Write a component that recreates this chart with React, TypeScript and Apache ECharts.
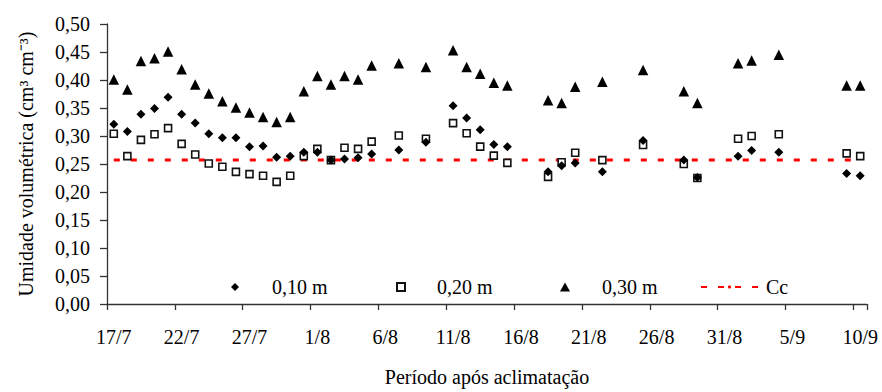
import React, { useEffect, useRef } from "react";
import * as echarts from "echarts";

const axisDates = [
  "17/7","18/7","19/7","20/7","21/7","22/7","23/7","24/7","25/7","26/7","27/7","28/7","29/7","30/7","31/7",
  "1/8","2/8","3/8","4/8","5/8","6/8","7/8","8/8","9/8","10/8","11/8","12/8","13/8","14/8","15/8","16/8",
  "17/8","18/8","19/8","20/8","21/8","22/8","23/8","24/8","25/8","26/8","27/8","28/8","29/8","30/8","31/8",
  "1/9","2/9","3/9","4/9","5/9","6/9","7/9","8/9","9/9","10/9",
];

const measureDates = [
  "17/7","18/7","19/7","20/7","21/7","22/7","23/7","24/7","25/7","26/7","27/7","28/7","29/7","30/7","31/7",
  "1/8","2/8","3/8","4/8","5/8","7/8","9/8","11/8","12/8","13/8","14/8","15/8","18/8","19/8","20/8","22/8",
  "25/8","28/8","29/8","1/9","2/9","4/9","9/9","10/9",
];

const depth010 = [
  0.321,0.308,0.339,0.349,0.369,0.339,0.323,0.304,0.297,0.297,0.281,0.282,0.262,0.264,0.271,
  0.271,0.257,0.259,0.261,0.268,0.275,0.289,0.354,0.332,0.311,0.285,0.281,0.236,0.247,0.252,0.236,
  0.292,0.257,0.226,0.264,0.274,0.271,0.233,0.229,
];
const depth020 = [
  0.304,0.264,0.293,0.303,0.314,0.286,0.267,0.251,0.245,0.236,0.232,0.229,0.218,0.229,0.264,
  0.277,0.257,0.279,0.277,0.290,0.301,0.295,0.323,0.305,0.281,0.265,0.252,0.227,0.253,0.270,0.257,
  0.284,0.250,0.225,0.295,0.300,0.303,0.269,0.264,
];
const depth030 = [
  0.401,0.383,0.434,0.439,0.451,0.419,0.392,0.376,0.362,0.351,0.342,0.334,0.325,0.334,0.380,
  0.407,0.392,0.407,0.401,0.426,0.430,0.423,0.453,0.423,0.411,0.395,0.390,0.364,0.359,0.388,0.397,
  0.418,0.380,0.359,0.430,0.435,0.445,0.390,0.390,
];
const ccDates = ["17/7", "10/9"];
const ccValue = 0.257;

const seriesNames = ["0,10 m", "0,20 m", "0,30 m", "Cc"];
const yTicks = { min: 0, max: 0.5, interval: 0.05 };

const FONT = "Liberation Serif";

export default function App() {
  const ref = useRef<HTMLDivElement>(null);
  useEffect(() => {
    if (!ref.current) return;
    const chart = echarts.init(ref.current, null, { renderer: "svg" });
    const pair = (vals: number[]) => measureDates.map((d, i) => [d, vals[i]]);
    const legendBase = {
      orient: "horizontal",
      top: 277,
      padding: 0,
      selectedMode: false,
      textStyle: { fontFamily: FONT, fontSize: 20, color: "#000", lineHeight: 20 },
    };
    chart.setOption({
      animation: false,
      backgroundColor: "#fff",
      grid: { left: 107, right: 15, top: 24, bottom: 79, containLabel: false },
      legend: [
        { ...legendBase, data: [seriesNames[0]], left: 231, itemWidth: 8, itemHeight: 8,
          textStyle: { ...legendBase.textStyle, padding: [0, 0, 0, 28] } },
        { ...legendBase, data: [seriesNames[1]], left: 396, itemWidth: 8, itemHeight: 8,
          textStyle: { ...legendBase.textStyle, padding: [0, 0, 0, 27] } },
        { ...legendBase, data: [seriesNames[2]], left: 560, itemWidth: 10, itemHeight: 9,
          textStyle: { ...legendBase.textStyle, padding: [0, 0, 0, 27] } },
        { ...legendBase, data: [seriesNames[3]], left: 700, itemWidth: 57, itemHeight: 4,
          textStyle: { ...legendBase.textStyle, padding: [0, 0, 0, 3] } },
      ],
      textStyle: { fontFamily: FONT },
      xAxis: {
        type: "category",
        data: axisDates,
        boundaryGap: true,
        name: "Período após aclimatação",
        nameLocation: "middle",
        nameGap: 63,
        nameTextStyle: { fontFamily: FONT, fontSize: 20, color: "#000" },
        axisLine: { lineStyle: { color: "#333", width: 1.3 } },
        axisTick: { show: true, interval: 4, length: 6, lineStyle: { color: "#333", width: 1.3 } },
        axisLabel: { interval: 4, margin: 23, fontFamily: FONT, fontSize: 20, color: "#000" },
        splitLine: { show: false },
      },
      yAxis: {
        type: "value",
        min: yTicks.min,
        max: yTicks.max,
        interval: yTicks.interval,
        name: "Umidade volumétrica (cm³ cm⁻³)",
        nameLocation: "middle",
        nameGap: 71,
        nameTextStyle: { fontFamily: FONT, fontSize: 20, color: "#000" },
        axisLine: { show: true, lineStyle: { color: "#333", width: 1.3 } },
        axisTick: { show: true, length: 7, lineStyle: { color: "#333", width: 1.3 } },
        axisLabel: {
          margin: 17,
          fontFamily: FONT,
          fontSize: 20,
          color: "#000",
          formatter: (v: number) => v.toFixed(2).replace(".", ","),
        },
        splitLine: { show: false },
      },
      series: [
        {
          name: seriesNames[0],
          type: "scatter",
          symbol: "diamond",
          symbolSize: 9,
          itemStyle: { color: "#000", opacity: 1 },
          data: pair(depth010),
          z: 3,
        },
        {
          name: seriesNames[1],
          type: "scatter",
          symbol: "rect",
          symbolSize: 7,
          itemStyle: { color: "#fff", borderColor: "#111", borderWidth: 1.6, opacity: 1 },
          data: pair(depth020),
          z: 2,
        },
        {
          name: seriesNames[2],
          type: "scatter",
          symbol: "triangle",
          symbolSize: 10.5,
          itemStyle: { color: "#000", opacity: 1 },
          data: pair(depth030),
          z: 4,
        },
        {
          name: seriesNames[3],
          type: "line",
          symbol: "none",
          color: "#ff0000",
          lineStyle: { color: "#ff0000", width: 3, type: [6, 11] },
          data: ccDates.map((d) => [d, ccValue]),
          z: 1,
        },
      ],
    });
    return () => chart.dispose();
  }, []);
  return <div ref={ref} style={{ width: 882, height: 392, position: "absolute", left: 0, top: 0 }} />;
}
